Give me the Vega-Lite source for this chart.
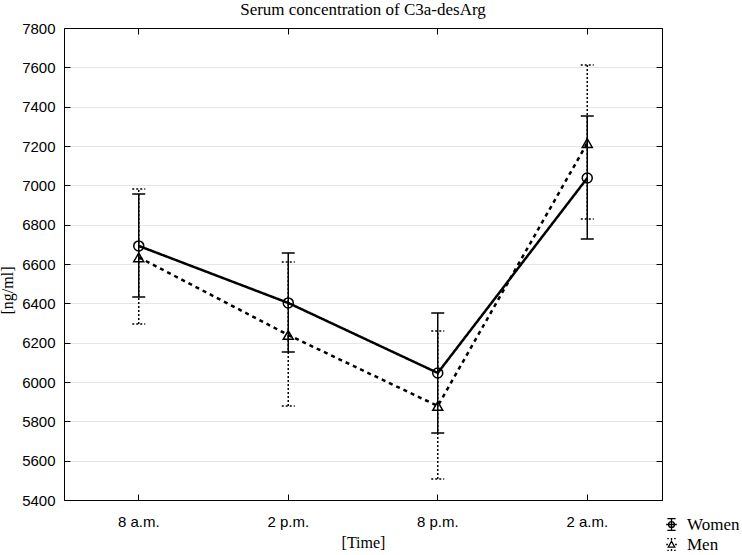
{
  "$schema": "https://vega.github.io/schema/vega-lite/v6.json",
  "autosize": {"type": "none"},
  "padding": {"left": 64, "top": 28, "right": 80, "bottom": 55},
  "width": 598,
  "height": 472,
  "background": "white",
  "title": {"text": "Serum concentration of C3a-desArg", "font": "Liberation Serif", "fontSize": 17, "fontWeight": "normal", "color": "black", "offset": 2, "anchor": "middle"},
  "config": {
    "view": {"stroke": "black", "strokeWidth": 1},
    "axis": {"labelFont": "Liberation Sans", "labelFontSize": 15, "labelColor": "black", "titleFont": "Liberation Serif", "titleFontSize": 16, "titleFontWeight": "normal", "titleColor": "black", "domainColor": "black", "tickColor": "black"},
    "legend": {"labelFont": "Liberation Serif", "labelFontSize": 17, "labelColor": "black"}
  },
  "data": {"values": [
    {"time": "8 a.m.", "series": "Women", "mean": 6692, "lower": 6432, "upper": 6956},
    {"time": "2 p.m.", "series": "Women", "mean": 6402, "lower": 6153, "upper": 6656},
    {"time": "8 p.m.", "series": "Women", "mean": 6046, "lower": 5741, "upper": 6351},
    {"time": "2 a.m.", "series": "Women", "mean": 7037, "lower": 6727, "upper": 7353},
    {"time": "8 a.m.", "series": "Men", "mean": 6634, "lower": 6295, "upper": 6981},
    {"time": "2 p.m.", "series": "Men", "mean": 6239, "lower": 5878, "upper": 6610},
    {"time": "8 p.m.", "series": "Men", "mean": 5878, "lower": 5507, "upper": 6259},
    {"time": "2 a.m.", "series": "Men", "mean": 7215, "lower": 6829, "upper": 7612}
  ]},
  "resolve": {"axis": {"x": "independent", "y": "independent"}},
  "layer": [
    {
      "mark": {"type": "rule", "color": "black", "strokeWidth": 1.5},
      "encoding": {
        "x": {"field": "time", "type": "ordinal", "sort": ["8 a.m.", "2 p.m.", "8 p.m.", "2 a.m."], "scale": {"paddingInner": 0, "paddingOuter": 0}, "axis": {"orient": "bottom", "title": "[Time]", "labelAngle": 0, "tickSize": -6, "labelPadding": 20, "titlePadding": 5, "grid": false}},
        "y": {"field": "lower", "type": "quantitative", "scale": {"domain": [5400, 7800], "nice": false, "zero": false}, "axis": {"orient": "left", "title": "[ng/ml]", "titleY": 262, "values": [5400, 5600, 5800, 6000, 6200, 6400, 6600, 6800, 7000, 7200, 7400, 7600, 7800], "tickSize": -6, "labelPadding": 15, "titlePadding": 6, "grid": true, "gridColor": "#e6e6e6", "gridWidth": 1, "format": "d"}},
        "y2": {"field": "upper"},
        "strokeDash": {"condition": {"test": "datum.series === 'Men'", "value": [2, 2]}, "value": [1, 0]}
      }
    },
    {
      "mark": {"type": "point", "shape": "M-1,0H1", "filled": false, "color": "black", "strokeWidth": 1.5, "size": 169, "opacity": 1},
      "encoding": {
        "x": {"field": "time", "type": "ordinal", "sort": ["8 a.m.", "2 p.m.", "8 p.m.", "2 a.m."], "axis": null},
        "y": {"field": "upper", "type": "quantitative", "axis": null},
        "strokeDash": {"condition": {"test": "datum.series === 'Men'", "value": [2, 2]}, "value": [1, 0]}
      }
    },
    {
      "mark": {"type": "point", "shape": "M-1,0H1", "filled": false, "color": "black", "strokeWidth": 1.5, "size": 169, "opacity": 1},
      "encoding": {
        "x": {"field": "time", "type": "ordinal", "sort": ["8 a.m.", "2 p.m.", "8 p.m.", "2 a.m."], "axis": null},
        "y": {"field": "lower", "type": "quantitative", "axis": null},
        "strokeDash": {"condition": {"test": "datum.series === 'Men'", "value": [2, 2]}, "value": [1, 0]}
      }
    },
    {
      "mark": {"type": "line", "color": "black", "strokeWidth": 2.5},
      "encoding": {
        "x": {"field": "time", "type": "ordinal", "sort": ["8 a.m.", "2 p.m.", "8 p.m.", "2 a.m."], "axis": {"orient": "top", "title": null, "labels": false, "tickSize": -6, "domain": true, "grid": false}},
        "y": {"field": "mean", "type": "quantitative", "axis": {"orient": "right", "title": null, "labels": false, "tickSize": -6, "values": [5400, 5600, 5800, 6000, 6200, 6400, 6600, 6800, 7000, 7200, 7400, 7600, 7800], "domain": true, "grid": false}},
        "detail": {"field": "series"},
        "strokeDash": {"condition": {"test": "datum.series === 'Men'", "value": [4, 4]}, "value": [1, 0]}
      }
    },
    {
      "mark": {"type": "point", "filled": false, "color": "black", "strokeWidth": 1.5, "size": 100, "opacity": 1},
      "encoding": {
        "x": {"field": "time", "type": "ordinal", "sort": ["8 a.m.", "2 p.m.", "8 p.m.", "2 a.m."], "axis": null},
        "y": {"field": "mean", "type": "quantitative", "axis": null},
        "shape": {"condition": {"test": "datum.series === 'Men'", "value": "triangle-up"}, "value": "circle"}
      }
    },
    {
      "mark": {"type": "point", "filled": false, "color": "black", "strokeWidth": 1.3, "opacity": 0},
      "encoding": {
        "x": {"field": "time", "type": "ordinal", "sort": ["8 a.m.", "2 p.m.", "8 p.m.", "2 a.m."], "axis": null},
        "y": {"field": "mean", "type": "quantitative", "axis": null},
        "shape": {"field": "series", "type": "nominal", "scale": {"domain": ["Women", "Men"], "range": ["M-0.7,-1H0.7M0,-1V1M-0.7,1H0.7M-0.9,0H0.9M0.5,0A0.5,0.5,0,1,1,-0.5,0A0.5,0.5,0,1,1,0.5,0", "M-0.7,-1H-0.45M-0.12,-1H0.12M0.45,-1H0.7M-0.7,1H-0.45M-0.12,1H0.12M0.45,1H0.7M0,-0.95V-0.7M0,0.75V0.95M0,-0.55L0.55,0.45H-0.55ZM-0.9,0H-0.6M0.6,0H0.9"]},
          "legend": {"orient": "none", "legendX": 599, "legendY": 488, "title": null, "labelFont": "Liberation Serif", "labelFontSize": 17, "labelColor": "black", "symbolSize": 140, "symbolStrokeColor": "black", "symbolStrokeWidth": 1.3, "symbolFillColor": "transparent", "symbolOpacity": 1, "rowPadding": 1, "labelOffset": 7, "padding": 0}
        }
      }
    }
  ]
}
